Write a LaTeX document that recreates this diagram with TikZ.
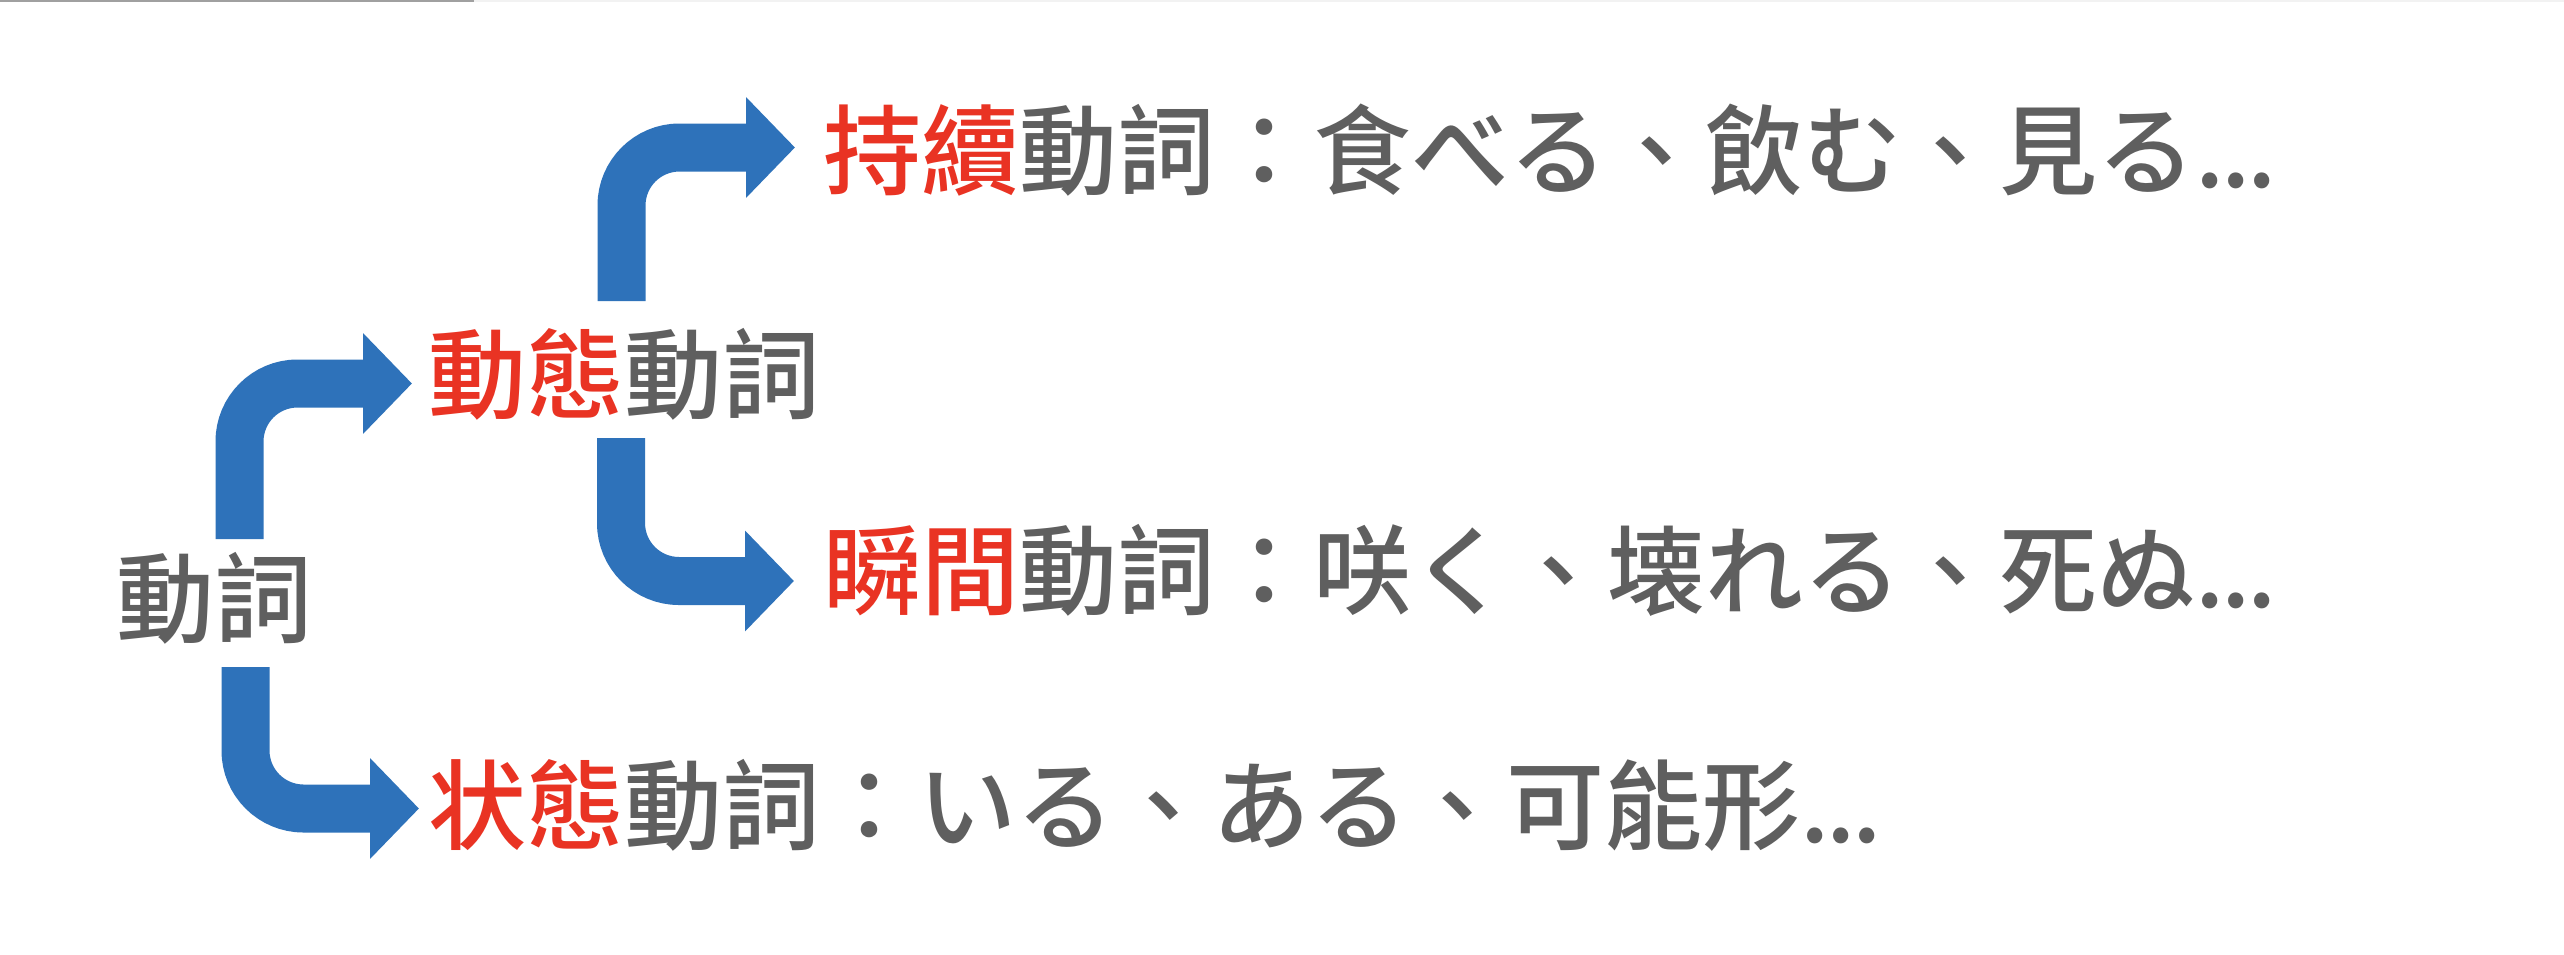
\documentclass[tikz,border=0pt]{standalone}
\usepackage{fontspec}
\usetikzlibrary{arrows.meta}
\newfontfamily\cjk{Noto Sans CJK TC Medium}
\definecolor{txtgray}{RGB}{95,95,95}
\definecolor{txtred}{RGB}{233,51,35}
\definecolor{arrblue}{RGB}{46,114,186}
\definecolor{edgegray}{RGB}{160,160,160}
\definecolor{edgelight}{RGB}{242,242,242}
\tikzset{
  lbl/.style={anchor=base west, inner sep=0pt, outer sep=0pt, text=txtgray,
    font=\cjk\fontsize{98}{110}\selectfont},
  flow/.style={draw=arrblue, line width=48pt, rounded corners=58pt,
    -{Triangle[length=49pt,width=98pt]}},
}
\newcommand{\hl}[1]{\textcolor{txtred}{#1}}
\newcommand{\mydots}{.\kern-3pt.\kern-3pt.}
\begin{document}
\begin{tikzpicture}[x=1pt,y=-1pt]
\useasboundingbox (0,0) rectangle (2564,954);
\fill[white] (0,0) rectangle (2564,954);
\draw[edgelight, line width=1.5pt] (0,0.75) -- (2564,0.75);
\draw[edgegray, line width=1.5pt] (0,0.75) -- (474,0.75);
% texts
\node[lbl] (root) at (116,635) {動詞};
\node[lbl] (dyn) at (428,411) {\hl{動態}動詞};
\node[lbl] (dur) at (823,187) {\hl{持續}動詞：食べる、飲む、見る\mydots};
\node[lbl] (ins) at (823,607) {\hl{瞬間}動詞：咲く、壊れる、死ぬ\mydots};
\node[lbl] (sta) at (428,842) {\hl{状態}動詞：いる、ある、可能形\mydots};
% arrow end points
\coordinate (a0) at (239.5,539);
\coordinate (a1) at (412,383.5);
\coordinate (b0) at (245.5,667);
\coordinate (b1) at (419,808.5);
\coordinate (c0) at (621.5,301);
\coordinate (c1) at (795,147.5);
\coordinate (d0) at (621,438);
\coordinate (d1) at (794,581);
\draw[flow] (a0) |- (a1);
\draw[flow] (b0) |- (b1);
\draw[flow] (c0) |- (c1);
\draw[flow] (d0) |- (d1);
\end{tikzpicture}
\end{document}
